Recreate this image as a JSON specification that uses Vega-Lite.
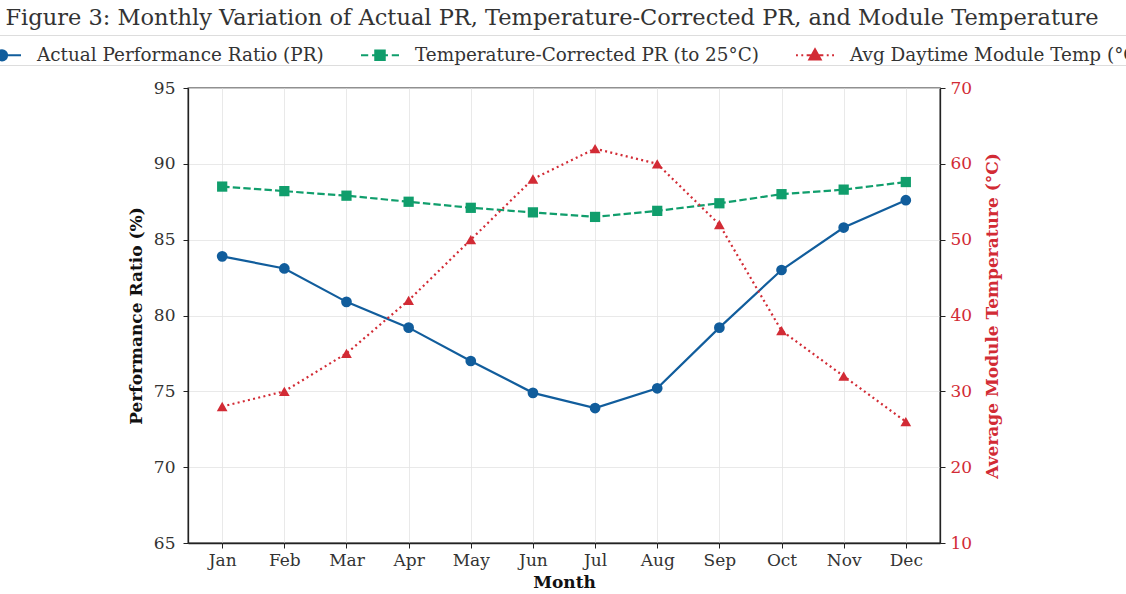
{
  "$schema": "https://vega.github.io/schema/vega-lite/v6.json",
  "width": 752,
  "height": 455,
  "autosize": {"type": "none"},
  "padding": {"left": 188, "top": 88, "right": 186, "bottom": 51},
  "background": "white",
  "config": {
    "font": "DejaVu Serif",
    "view": {"stroke": "#222222", "strokeWidth": 1.3},
    "axis": {
      "labelFont": "DejaVu Serif",
      "labelFontSize": 17,
      "labelColor": "#333333",
      "titleFont": "DejaVu Serif",
      "titleFontSize": 17,
      "titleFontWeight": "bold",
      "titleColor": "#111111",
      "domainColor": "#222222",
      "domainWidth": 1.3,
      "tickColor": "#222222",
      "tickSize": 5,
      "tickWidth": 1,
      "gridColor": "#e3e3e3",
      "gridWidth": 0.8
    }
  },
  "title": {
    "text": "Figure 3: Monthly Variation of Actual PR, Temperature-Corrected PR, and Module Temperature",
    "fontSize": 22.5,
    "fontWeight": "normal",
    "font": "DejaVu Serif",
    "color": "#333333",
    "anchor": "middle",
    "frame": "group",
    "dx": -12,
    "offset": 5
  },
  "data": {
    "values": [
      {"month": "Jan", "series": "Actual Performance Ratio (PR)", "value": 83.9},
      {"month": "Feb", "series": "Actual Performance Ratio (PR)", "value": 83.1},
      {"month": "Mar", "series": "Actual Performance Ratio (PR)", "value": 80.9},
      {"month": "Apr", "series": "Actual Performance Ratio (PR)", "value": 79.2},
      {"month": "May", "series": "Actual Performance Ratio (PR)", "value": 77.0},
      {"month": "Jun", "series": "Actual Performance Ratio (PR)", "value": 74.9},
      {"month": "Jul", "series": "Actual Performance Ratio (PR)", "value": 73.9},
      {"month": "Aug", "series": "Actual Performance Ratio (PR)", "value": 75.2},
      {"month": "Sep", "series": "Actual Performance Ratio (PR)", "value": 79.2},
      {"month": "Oct", "series": "Actual Performance Ratio (PR)", "value": 83.0},
      {"month": "Nov", "series": "Actual Performance Ratio (PR)", "value": 85.8},
      {"month": "Dec", "series": "Actual Performance Ratio (PR)", "value": 87.6},
      {"month": "Jan", "series": "Temperature-Corrected PR (to 25°C)", "value": 88.5},
      {"month": "Feb", "series": "Temperature-Corrected PR (to 25°C)", "value": 88.2},
      {"month": "Mar", "series": "Temperature-Corrected PR (to 25°C)", "value": 87.9},
      {"month": "Apr", "series": "Temperature-Corrected PR (to 25°C)", "value": 87.5},
      {"month": "May", "series": "Temperature-Corrected PR (to 25°C)", "value": 87.1},
      {"month": "Jun", "series": "Temperature-Corrected PR (to 25°C)", "value": 86.8},
      {"month": "Jul", "series": "Temperature-Corrected PR (to 25°C)", "value": 86.5},
      {"month": "Aug", "series": "Temperature-Corrected PR (to 25°C)", "value": 86.9},
      {"month": "Sep", "series": "Temperature-Corrected PR (to 25°C)", "value": 87.4},
      {"month": "Oct", "series": "Temperature-Corrected PR (to 25°C)", "value": 88.0},
      {"month": "Nov", "series": "Temperature-Corrected PR (to 25°C)", "value": 88.3},
      {"month": "Dec", "series": "Temperature-Corrected PR (to 25°C)", "value": 88.8},
      {"month": "Jan", "series": "Avg Daytime Module Temp (°C)", "value": 28},
      {"month": "Feb", "series": "Avg Daytime Module Temp (°C)", "value": 30},
      {"month": "Mar", "series": "Avg Daytime Module Temp (°C)", "value": 35},
      {"month": "Apr", "series": "Avg Daytime Module Temp (°C)", "value": 42},
      {"month": "May", "series": "Avg Daytime Module Temp (°C)", "value": 50},
      {"month": "Jun", "series": "Avg Daytime Module Temp (°C)", "value": 58},
      {"month": "Jul", "series": "Avg Daytime Module Temp (°C)", "value": 62},
      {"month": "Aug", "series": "Avg Daytime Module Temp (°C)", "value": 60},
      {"month": "Sep", "series": "Avg Daytime Module Temp (°C)", "value": 52},
      {"month": "Oct", "series": "Avg Daytime Module Temp (°C)", "value": 38},
      {"month": "Nov", "series": "Avg Daytime Module Temp (°C)", "value": 32},
      {"month": "Dec", "series": "Avg Daytime Module Temp (°C)", "value": 26}
    ]
  },
  "encoding": {
    "x": {
      "field": "month",
      "type": "ordinal",
      "sort": ["Jan", "Feb", "Mar", "Apr", "May", "Jun", "Jul", "Aug", "Sep", "Oct", "Nov", "Dec"],
      "scale": {"type": "point", "padding": 0.55},
      "axis": {"title": "Month", "labelAngle": 0, "labelPadding": 4, "titlePadding": 6, "grid": true}
    },
    "color": {
      "field": "series",
      "type": "nominal",
      "scale": {
        "domain": ["Actual Performance Ratio (PR)", "Temperature-Corrected PR (to 25°C)", "Avg Daytime Module Temp (°C)"],
        "range": ["#115d9c", "#109e6c", "#d22b35"]
      },
      "legend": {
        "title": null,
        "orient": "none",
        "direction": "horizontal",
        "legendX": -206,
        "legendY": -53,
        "labelFont": "DejaVu Serif",
        "labelFontSize": 18.4,
        "labelColor": "#333333",
        "labelLimit": 600,
        "labelOffset": 15,
        "columnPadding": 33,
        "symbolSize": 1444,
        "symbolDash": [],
        "symbolStrokeWidth": 2,
        "padding": 0,
        "strokeColor": "#dddddd",
        "fillColor": "white",
        "encode": {
          "symbols": {
            "update": {
              "shape": {"signal": "datum.value === 'Actual Performance Ratio (PR)' ? 'M-1,0L1,0M-0.27,0A0.27,0.27 0 1,1 0.27,0A0.27,0.27 0 1,1 -0.27,0Z' : datum.value === 'Temperature-Corrected PR (to 25°C)' ? 'M-1,0L-0.62,0M-0.42,0L0.42,0M0.62,0L1,0M-0.25,-0.25L0.25,-0.25L0.25,0.25L-0.25,0.25Z' : 'M-1,0L-0.9,0M-0.72,0L-0.62,0M-0.44,0L0.44,0M0.62,0L0.72,0M0.9,0L1,0M0,-0.32L0.3,0.22L-0.3,0.22Z'"},
              "fill": {"scale": "color", "field": "value"},
              "stroke": {"scale": "color", "field": "value"},
              "strokeWidth": {"value": 2},
              "strokeDash": {"value": []},
              "fillOpacity": {"value": 1},
              "opacity": {"value": 1}
            }
          }
        }
      }
    }
  },
  "layer": [
    {
      "encoding": {
        "y": {
          "field": "value",
          "type": "quantitative",
          "scale": {"domain": [65, 95], "nice": false, "zero": false},
          "axis": {"title": "Performance Ratio (%)", "values": [65, 70, 75, 80, 85, 90, 95], "grid": true, "labelPadding": 8, "titlePadding": 8}
        }
      },
      "layer": [
        {
          "transform": [{"filter": "datum.series === 'Actual Performance Ratio (PR)'"}],
          "mark": {"type": "line", "strokeWidth": 2.2}
        },
        {
          "transform": [{"filter": "datum.series === 'Temperature-Corrected PR (to 25°C)'"}],
          "mark": {"type": "line", "strokeWidth": 2.2, "strokeDash": [7.4, 3.2]}
        },
        {
          "transform": [{"filter": "datum.series === 'Actual Performance Ratio (PR)'"}],
          "mark": {"type": "point", "shape": "circle", "filled": true, "opacity": 1, "size": 115}
        },
        {
          "transform": [{"filter": "datum.series === 'Temperature-Corrected PR (to 25°C)'"}],
          "mark": {"type": "point", "shape": "square", "filled": true, "opacity": 1, "size": 105}
        }
      ]
    },
    {
      "transform": [{"filter": "datum.series === 'Avg Daytime Module Temp (°C)'"}],
      "encoding": {
        "y": {
          "field": "value",
          "type": "quantitative",
          "scale": {"domain": [10, 70], "nice": false, "zero": false},
          "axis": {
            "orient": "right",
            "title": "Average Module Temperature (°C)",
            "values": [10, 20, 30, 40, 50, 60, 70],
            "grid": false,
            "labelColor": "#d22b35",
            "titleColor": "#d22b35",
            "titleAngle": 270,
            "labelPadding": 5,
            "titlePadding": 30
          }
        }
      },
      "layer": [
        {"mark": {"type": "line", "strokeWidth": 2.2, "strokeDash": [2, 3.3]}},
        {"mark": {"type": "point", "shape": "triangle-up", "filled": true, "opacity": 1, "size": 115}}
      ]
    }
  ],
  "resolve": {"scale": {"y": "independent"}}
}
